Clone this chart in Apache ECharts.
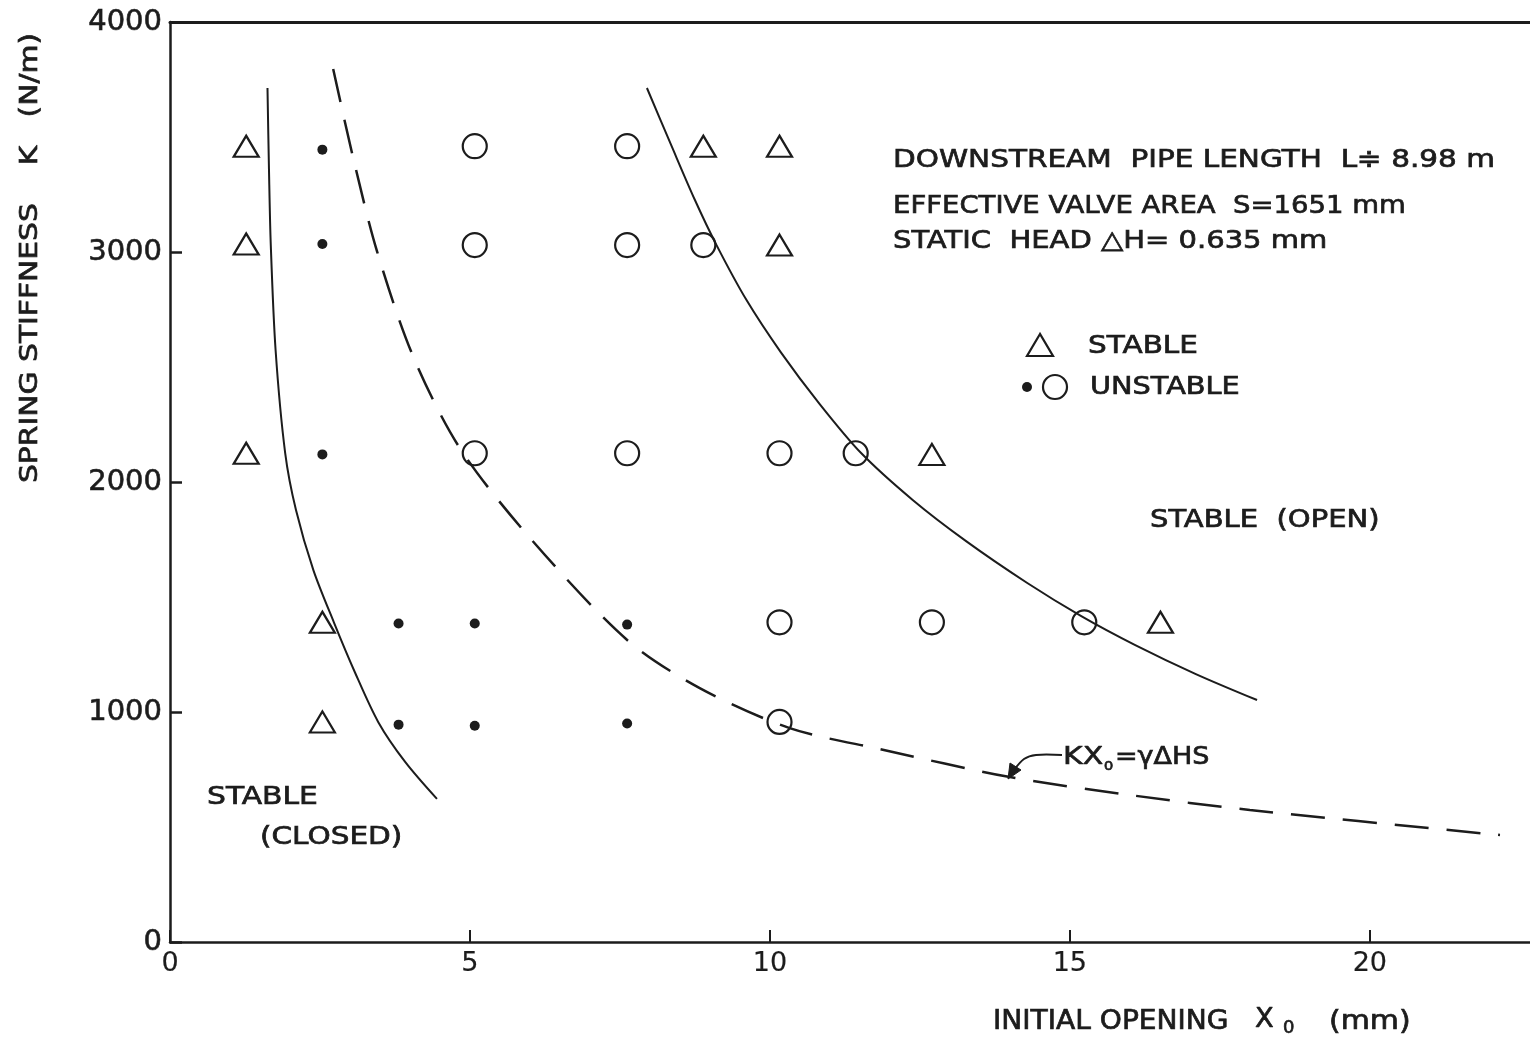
<!DOCTYPE html>
<html><head><meta charset="utf-8">
<script src="https://cdn.jsdelivr.net/npm/echarts@6/dist/echarts.min.js"></script>
<style>html,body{margin:0;padding:0;background:#fff}#c{width:1530px;height:1039px}</style>
</head><body><div id="c"></div>
<script>
// ---- data ----
const xTicks = [0, 5, 10, 15, 20];
const yTicks = [0, 1000, 2000, 3000, 4000];

const stableX = [1.27, 1.27, 1.27, 2.54, 2.54, 8.89, 10.16, 10.16, 12.70, 16.51];
const stableK = [3460, 3035, 2125, 1390, 957, 3460, 3460, 3030, 2120, 1390];

const unstableOpenX = [5.08, 7.62, 5.08, 7.62, 8.89, 5.08, 7.62, 10.16, 11.43, 10.16, 12.70, 15.24, 10.16];
const unstableOpenK = [3460, 3460, 3030, 3030, 3030, 2125, 2125, 2125, 2125, 1390, 1390, 1390, 957];

const unstableDotX = [2.54, 2.54, 2.54, 3.81, 5.08, 7.62, 3.81, 5.08, 7.62];
const unstableDotK = [3445, 3035, 2120, 1385, 1385, 1380, 945, 940, 950];

const leftCurveX = [1.625, 1.65, 1.68, 1.76, 1.92, 2.10, 2.39, 2.73, 3.08, 3.47, 3.92, 4.45];
const leftCurveK = [3713, 3357, 3030, 2574, 2126, 1878, 1617, 1391, 1174, 957, 783, 622];

const dashX = [2.72, 3.05, 3.45, 4.05, 4.83, 6.0, 7.62, 8.83, 10.33, 11.83, 14.0, 16.0, 18.0, 22.17];
const dashK = [3796, 3413, 3004, 2548, 2148, 1757, 1313, 1104, 930, 839, 717, 639, 574, 465];

const rightCurveX = [7.95, 8.36, 8.75, 9.11, 9.61, 10.18, 10.83, 11.52, 12.38, 13.27, 14.29, 15.19, 16.09, 17.10, 18.12];
const rightCurveK = [3713, 3461, 3226, 3030, 2791, 2565, 2339, 2126, 1922, 1743, 1561, 1417, 1291, 1165, 1052];

// ---- chart ----
const zip = (xs, ys) => xs.map((x, i) => [x, ys[i]]);
const INK = '#1c1c1c';
const FONT = '"DejaVu Sans", "Noto Sans", sans-serif';
const chart = echarts.init(document.getElementById('c'), null, {renderer: 'canvas'});

function txt(text, x, y, size, sx, extra) {
  const el = {
    type: 'text', x: x, y: y, silent: true, scaleX: sx || 1,
    style: Object.assign({text: text, fontSize: size, fontFamily: FONT, fill: INK,
      stroke: INK, lineWidth: 0.7,
      textAlign: 'left', textVerticalAlign: 'middle', verticalAlign: 'middle'}, (extra && extra.style) || {})
  };
  if (extra && extra.rotation !== undefined) el.rotation = extra.rotation;
  return el;
}

const labelStyle = {fontSize: 27, fontFamily: FONT, color: INK, textBorderColor: INK, textBorderWidth: 0.6};

const option = {
  backgroundColor: '#ffffff',
  animation: false,
  grid: {left: 170, right: 0, top: 22, bottom: 97, containLabel: false},
  xAxis: [{
    type: 'value', min: 0, max: 22.67, interval: 5,
    axisLine: {show: true, lineStyle: {color: INK, width: 2.5}},
    axisTick: {show: true, inside: true, length: 12, lineStyle: {color: INK, width: 2}},
    axisLabel: Object.assign({margin: 8, showMaxLabel: false,
      formatter: v => (xTicks.indexOf(v) >= 0 ? String(v) : '')}, labelStyle, {textBorderWidth: 0.2}),
    splitLine: {show: false}
  }, {
    type: 'value', position: 'top', min: 0, max: 22.67,
    axisLine: {show: true, lineStyle: {color: INK, width: 3}},
    axisTick: {show: false}, axisLabel: {show: false}, splitLine: {show: false}
  }],
  yAxis: {
    type: 'value', min: 0, max: 4000, interval: 1000,
    axisLine: {show: true, lineStyle: {color: INK, width: 2.5}},
    axisTick: {show: true, inside: true, length: 12, lineStyle: {color: INK, width: 2.5}},
    axisLabel: Object.assign({margin: 8,
      formatter: v => (yTicks.indexOf(v) >= 0 ? String(v) : '')}, labelStyle, {fontSize: 29}),
    splitLine: {show: false}
  },
  series: [
    {type: 'line', data: zip(leftCurveX, leftCurveK), smooth: 0.3, showSymbol: false, silent: true,
      lineStyle: {color: INK, width: 2}, z: 2},
    {type: 'line', data: zip(dashX, dashK), smooth: 0.3, showSymbol: false, silent: true,
      lineStyle: {color: INK, width: 2.5, type: [34, 18]}, z: 2},
    {type: 'line', data: zip(rightCurveX, rightCurveK), smooth: 0.3, showSymbol: false, silent: true,
      lineStyle: {color: INK, width: 2}, z: 2},
    {type: 'scatter', data: zip(stableX, stableK), symbol: 'triangle', symbolSize: [25, 21],
      itemStyle: {color: 'rgba(0,0,0,0)', borderColor: INK, borderWidth: 2.2, opacity: 1}, z: 3},
    {type: 'scatter', data: zip(unstableOpenX, unstableOpenK), symbol: 'circle', symbolSize: 24,
      itemStyle: {color: 'rgba(0,0,0,0)', borderColor: INK, borderWidth: 2.2, opacity: 1}, z: 3},
    {type: 'scatter', data: zip(unstableDotX, unstableDotK), symbol: 'circle', symbolSize: 10,
      itemStyle: {color: INK, opacity: 1}, z: 3}
  ],
  graphic: [
    // axis titles
    txt('SPRING STIFFNESS    K   (N/m)', 30, 258, 25, 1.19, {rotation: Math.PI / 2, style: {textAlign: 'center'}}),
    txt('INITIAL OPENING', 993, 1022, 26, 1.08),
    txt('X', 1255, 1020, 26, 1.05),
    txt('0', 1283, 1028, 18, 1.0),
    txt('(mm)', 1329, 1022, 26, 1.15),
    // parameters
    txt('DOWNSTREAM  PIPE LENGTH  L\u2251 8.98 m', 893, 160, 25, 1.18),
    txt('EFFECTIVE VALVE AREA  S=1651 mm', 893, 206, 25, 1.10),
    txt('STATIC  HEAD \u25B3H= 0.635 mm', 893, 241, 25, 1.16),
    // legend
    {type: 'polygon', silent: true, shape: {points: [[1040, 334], [1027, 356], [1053, 356]]},
      style: {fill: 'none', stroke: INK, lineWidth: 2.2}},
    txt('STABLE', 1088, 346, 25, 1.18),
    {type: 'circle', silent: true, shape: {cx: 1027, cy: 387, r: 5}, style: {fill: INK}},
    {type: 'circle', silent: true, shape: {cx: 1055, cy: 387, r: 12}, style: {fill: 'none', stroke: INK, lineWidth: 2.2}},
    txt('UNSTABLE', 1090, 387, 25, 1.15),
    // region labels
    txt('STABLE  (OPEN)', 1150, 520, 25, 1.16),
    txt('STABLE', 207, 797, 25, 1.19),
    txt('(CLOSED)', 260, 837, 25, 1.18),
    // KX0 annotation
    txt('KX', 1063, 757, 25, 1.2),
    txt('o', 1104, 766, 15, 1.0),
    txt('=\u03B3\u0394HS', 1115, 757, 25, 1.08),
    {type: 'polyline', silent: true,
      shape: {points: [[1062, 755], [1036, 755], [1024, 759], [1014, 770]], smooth: 0.3},
      style: {fill: 'none', stroke: INK, lineWidth: 2}},
    {type: 'polygon', silent: true, shape: {points: [[1008, 779], [1010, 763], [1021, 770]]},
      style: {fill: INK, stroke: INK, lineWidth: 1}}
  ]
};
chart.setOption(option);
</script></body></html>
